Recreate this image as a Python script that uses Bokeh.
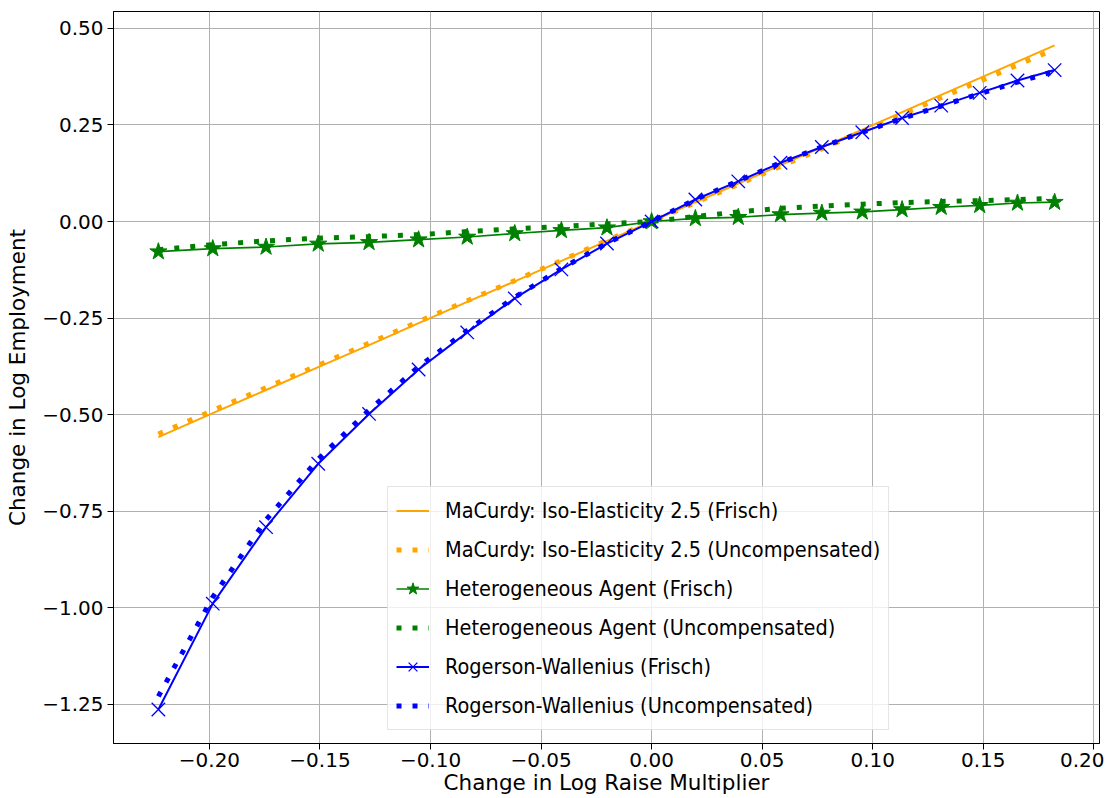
from bokeh.plotting import figure
from bokeh.models import Range1d, FixedTicker, Legend, LegendItem
from bokeh.embed import file_html
from bokeh.resources import INLINE

# ---- data ----
x_vals = [-0.2231, -0.1985, -0.1744, -0.1508, -0.1278, -0.1054, -0.0834, -0.0619,
          -0.0408, -0.0202, 0.0, 0.0198, 0.0392, 0.0583, 0.0770, 0.0953, 0.1133,
          0.1310, 0.1484, 0.1655, 0.1823]

macurdy_frisch = [-0.558, -0.496, -0.436, -0.377, -0.320, -0.263, -0.208, -0.155,
                  -0.102, -0.050, 0.0, 0.050, 0.098, 0.146, 0.192, 0.238, 0.283,
                  0.328, 0.371, 0.414, 0.456]
macurdy_unc = [-0.550, -0.489, -0.430, -0.372, -0.315, -0.259, -0.205, -0.153,
               -0.101, -0.049, 0.0, 0.049, 0.096, 0.143, 0.188, 0.233, 0.277,
               0.321, 0.363, 0.405, 0.446]
hetero_frisch = [-0.078, -0.070, -0.066, -0.058, -0.054, -0.047, -0.040, -0.031,
                 -0.023, -0.016, 0.0, 0.008, 0.011, 0.018, 0.022, 0.025, 0.031,
                 0.037, 0.042, 0.048, 0.050]
hetero_unc = [-0.073, -0.060, -0.050, -0.043, -0.039, -0.034, -0.026, -0.019,
              -0.013, -0.006, 0.0, 0.013, 0.025, 0.034, 0.040, 0.045, 0.049,
              0.052, 0.054, 0.057, 0.060]
rw_frisch = [-1.263, -0.989, -0.791, -0.627, -0.498, -0.383, -0.287, -0.199,
             -0.124, -0.057, 0.0, 0.057, 0.104, 0.152, 0.193, 0.231, 0.268,
             0.300, 0.333, 0.365, 0.392]
rw_unc = [-1.229, -0.972, -0.772, -0.615, -0.488, -0.376, -0.282, -0.196,
          -0.122, -0.056, 0.0, 0.057, 0.105, 0.152, 0.193, 0.231, 0.267,
          0.299, 0.331, 0.361, 0.389]

x_ticks = [-0.20, -0.15, -0.10, -0.05, 0.0, 0.05, 0.10, 0.15, 0.20]
x_tick_labels = ["\u22120.20", "\u22120.15", "\u22120.10", "\u22120.05", "0.00",
                 "0.05", "0.10", "0.15", "0.20"]
y_ticks = [-1.25, -1.0, -0.75, -0.5, -0.25, 0.0, 0.25, 0.5]
y_tick_labels = ["\u22121.25", "\u22121.00", "\u22120.75", "\u22120.50", "\u22120.25",
                 "0.00", "0.25", "0.50"]

labels = ["MaCurdy: Iso-Elasticity 2.5 (Frisch)",
          "MaCurdy: Iso-Elasticity 2.5 (Uncompensated)",
          "Heterogeneous Agent (Frisch)",
          "Heterogeneous Agent (Uncompensated)",
          "Rogerson-Wallenius (Frisch)",
          "Rogerson-Wallenius (Uncompensated)"]

FONT = "DejaVu Sans"

p = figure(width=1104, height=797,
           x_range=Range1d(-0.2434, 0.2026), y_range=Range1d(-1.351, 0.5436),
           output_backend="svg", toolbar_location=None,
           min_border_left=113, min_border_right=5, min_border_top=11,
           min_border_bottom=0)

p.outline_line_color = "black"
p.outline_line_width = 1
p.grid.grid_line_color = "#b0b0b0"
p.grid.grid_line_width = 1

p.xaxis.ticker = FixedTicker(ticks=x_ticks, minor_ticks=[])
p.yaxis.ticker = FixedTicker(ticks=y_ticks, minor_ticks=[])
p.xaxis.major_label_overrides = dict(zip(x_ticks, x_tick_labels))
p.yaxis.major_label_overrides = dict(zip(y_ticks, y_tick_labels))
for ax in (p.xaxis[0], p.yaxis[0]):
    ax.major_tick_in = 0
    ax.major_tick_out = 6
    ax.minor_tick_out = 0
    ax.minor_tick_in = 0
    ax.axis_line_color = "black"
    ax.major_tick_line_color = "black"
    ax.major_label_text_font = FONT
    ax.major_label_text_font_size = "20px"
    ax.major_label_text_color = "black"
    ax.axis_label_text_font = FONT
    ax.axis_label_text_font_size = "21.5px"
    ax.axis_label_text_font_style = "normal"
    ax.axis_label_text_color = "black"
    ax.major_label_standoff = 4
p.xaxis.axis_label = "Change in Log Raise Multiplier"
p.yaxis.axis_label = "Change in Log Employment"
p.xaxis.major_label_standoff = 3
p.xaxis.axis_label_standoff = 0
p.yaxis.axis_label_standoff = 9

r1 = p.line(x_vals, macurdy_frisch, line_color="orange", line_width=2)
r2 = p.line(x_vals, macurdy_unc, line_color="orange", line_width=5, line_dash="5 11")
r3 = p.line(x_vals, hetero_frisch, line_color="green", line_width=1.7)
r3m = p.scatter(x_vals, hetero_frisch, marker="star", size=18, fill_color="green",
                line_color="green", line_width=1)
r4 = p.line(x_vals, hetero_unc, line_color="green", line_width=5, line_dash="5 11")
r5 = p.line(x_vals, rw_frisch, line_color="blue", line_width=2)
r5m = p.scatter(x_vals, rw_frisch, marker="x", size=19, line_color="blue", line_width=1.3)
r6 = p.line(x_vals, rw_unc, line_color="blue", line_width=5, line_dash="5 11")

items = [LegendItem(label=labels[0], renderers=[r1]),
         LegendItem(label=labels[1], renderers=[r2]),
         LegendItem(label=labels[2], renderers=[r3, r3m]),
         LegendItem(label=labels[3], renderers=[r4]),
         LegendItem(label=labels[4], renderers=[r5, r5m]),
         LegendItem(label=labels[5], renderers=[r6])]
legend = Legend(items=items, location=(274, 13),
                label_text_font="DejaVu Sans Condensed", label_text_font_size="21.5px",
                label_text_color="black",
                glyph_width=33, glyph_height=31, label_height=31, label_standoff=16,
                padding=8, spacing=8, margin=0,
                border_line_color="#cccccc", border_line_width=1,
                background_fill_color="white", background_fill_alpha=0.8)
p.add_layout(legend)

open("out.html", "w").write(file_html(p, INLINE))
